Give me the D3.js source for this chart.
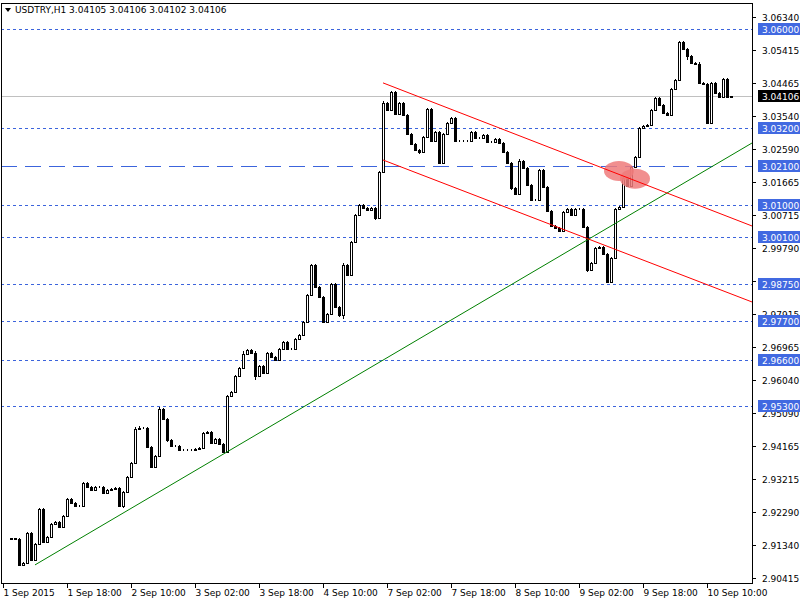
<!DOCTYPE html>
<html><head><meta charset="utf-8">
<script src="https://cdn.jsdelivr.net/npm/d3@7"></script>
<style>body{margin:0;background:#fff}text{font-family:"DejaVu Sans",sans-serif;font-size:9px}</style>
</head><body>
<svg width="800" height="600"></svg>
<script>
const svg = d3.select('svg');

// hourly closes, 1 Sep 2015 -> 10 Sep 2015
const closes = [2.91525,2.91525,2.91554,2.91525,2.90787,2.90844,2.91695,2.90929,2.91383,2.92377,
2.9144,2.91582,2.91951,2.92008,2.91866,2.92178,2.9266,2.92547,2.92462,2.92462,
2.93114,2.93001,2.92916,2.93001,2.93001,2.92831,2.92916,2.92944,2.92973,2.92462,
2.92859,2.93285,2.93682,2.94647,2.94675,2.94675,2.94136,2.93569,2.93881,2.95215,
2.94931,2.94335,2.94165,2.94165,2.94051,2.94051,2.94051,2.94051,2.94079,2.94108,
2.94533,2.94562,2.9425,2.94363,2.94221,2.93994,2.95584,2.95697,2.96151,2.96378,
2.96775,2.96889,2.96804,2.96151,2.96435,2.96236,2.96804,2.9669,2.96605,2.96917,
2.97116,2.96917,2.96917,2.97201,2.97315,2.97684,2.9845,2.99301,2.98677,2.98393,
2.97684,2.97911,2.98762,2.98109,2.97882,2.99301,2.99017,2.99954,3.0072,3.01004,
3.00919,3.00862,3.00919,3.00635,3.01941,3.03899,3.037,3.04211,3.03587,3.03899,
3.03558,3.03019,3.02735,3.02565,3.02508,3.02934,3.03729,3.0282,3.03076,3.02196,
3.03019,3.03331,3.03473,3.0282,3.0282,3.0282,3.0282,3.03076,3.02906,3.02906,
3.02991,3.02792,3.02792,3.02877,3.02764,3.02508,3.02196,3.01487,3.01316,3.02253,
3.02054,3.01572,3.01146,3.01146,3.01997,3.01515,3.00834,3.00408,3.00351,3.00266,
3.00805,3.00891,3.0072,3.00891,3.00891,3.0038,2.99159,2.99358,2.99784,2.99812,
2.99613,2.98819,2.995,3.00891,3.00947,3.0177,3.01543,3.02083,3.02366,3.03189,
3.03246,3.03274,3.037,3.04041,3.03842,3.03615,3.03558,3.04296,3.04552,3.0563,
3.05431,3.05233,3.05034,3.05006,3.04466,3.04438,3.03331,3.04466,3.04183,3.04069,
3.0458,3.04069,3.04106];
// wick lengths in pips where they stand out (others ~2 pips)
const wickUp = {0:0.5,1:0.5,2:0.5,3:0.5,33:5,34:5,39:5,60:7,62:4,63:5,77:4,85:6.5,95:5.7,106:2,129:7,145:2,169:3.4,174:6,180:3.5,182:0.3};
const wickDn = {0:0.5,1:0.5,2:0.5,3:0.5,5:1.5,21:4,25:2.3,30:5,41:6,52:3,63:10.5,64:3.7,84:6,85:10.5,93:4.5,104:6.5,109:4,127:5,132:3,146:4.5,171:11,174:2,177:2.5,182:0.3};
const wickDefault = 1.8;

const priceTicks = [3.06340,3.05415,3.04465,3.03540,3.02590,3.01665,3.00715,2.99790,2.98840,2.97915,2.96965,2.96040,2.95090,2.94165,2.93215,2.92290,2.91340,2.90415];
const levels = [3.060,3.032,3.010,3.001,2.9875,2.977,2.966,2.953];
const longDashLevel = 3.021;
const lastPrice = 3.04106;
const timeLabels = ['1 Sep 2015','1 Sep 18:00','2 Sep 10:00','3 Sep 02:00','3 Sep 18:00','4 Sep 10:00','7 Sep 02:00','7 Sep 18:00','8 Sep 10:00','9 Sep 02:00','9 Sep 18:00','10 Sep 10:00'];
const labelStep = 16;
// trend lines: [bar, price]
const greenLine = [[8,2.90787],[56,2.93994]];
const channelTop = [[95,3.0447],[187.25,3.00408]];
const channelBot = [[95,3.02281],[187.25,2.98251]];
const highlight = [[154,3.0197],[158,3.0175]];

const L = 1, R = 752, T = 3, B = 583;
const x = d3.scaleLinear().domain([0,1]).range([3,7]);
const y = d3.scaleLinear().domain([2.90415,3.06340]).range([578,17]);
const xMax = x.invert(R);

const g = svg.append('g').attr('shape-rendering','crispEdges');

// levels
levels.forEach(v=>{
  g.append('line').attr('x1',L).attr('x2',R).attr('y1',Math.round(y(v))+.5).attr('y2',Math.round(y(v))+.5)
    .attr('stroke','#3c64dc').attr('stroke-dasharray','3,3');
});
g.append('line').attr('x1',L).attr('x2',R).attr('y1',Math.round(y(longDashLevel))+.5).attr('y2',Math.round(y(longDashLevel))+.5)
  .attr('stroke','#3c64dc').attr('stroke-dasharray','16,8');
g.append('line').attr('x1',L).attr('x2',R).attr('y1',Math.round(y(lastPrice))+.5).attr('y2',Math.round(y(lastPrice))+.5)
  .attr('stroke','#c0c0c0');

// highlight blob
svg.selectAll('ellipse').data(highlight).enter().append('ellipse')
  .attr('cx',d=>x(d[0])).attr('cy',d=>y(d[1])).attr('rx',15).attr('ry',10)
  .attr('fill','#ef7b7b').attr('opacity',0.85);

// trend lines extended to the right edge
function ray(pts,color){
  const [a,b] = pts, s = (b[1]-a[1])/(b[0]-a[0]);
  svg.append('line').attr('x1',x(a[0])).attr('y1',y(a[1]))
    .attr('x2',x(xMax)).attr('y2',y(a[1]+s*(xMax-a[0])))
    .attr('stroke',color).attr('stroke-width',1);
}
ray(greenLine,'#008000');
ray(channelTop,'#ff0000');
ray(channelBot,'#ff0000');

// candles
const bars = closes.map((c,i)=>{
  const o = i? closes[i-1] : c;
  const h = Math.max(o,c) + (wickUp[i]??wickDefault)*1e-4;
  const l = Math.min(o,c) - (wickDn[i]??wickDefault)*1e-4;
  return {i,o,c,h,l};
});
const cg = g.append('g');
cg.selectAll('.wick').data(bars).enter().append('line')
  .attr('x1',d=>Math.round(x(d.i))+.5).attr('x2',d=>Math.round(x(d.i))+.5)
  .attr('y1',d=>Math.round(y(d.h))).attr('y2',d=>Math.round(y(d.l))).attr('stroke','#000');
cg.selectAll('.body').data(bars).enter().append('rect')
  .attr('x',d=>Math.round(x(d.i))-0.5).attr('width',2)
  .attr('y',d=>Math.round(y(Math.max(d.o,d.c)))+.5)
  .attr('height',d=>Math.max(0,Math.round(Math.abs(y(d.o)-y(d.c)))))
  .attr('fill',d=>d.c>=d.o?'#fff':'#000').attr('stroke','#000').attr('stroke-width',1);

// frame
g.append('rect').attr('x',L+.5).attr('y',T+.5).attr('width',R-L).attr('height',B-T)
  .attr('fill','none').attr('stroke','#000');

// price axis
const pa = svg.append('g');
priceTicks.forEach(v=>{
  const yy = Math.round(y(v))+.5;
  pa.append('line').attr('x1',R).attr('x2',R+4).attr('y1',yy).attr('y2',yy).attr('stroke','#000').attr('shape-rendering','crispEdges');
  pa.append('text').attr('x',R+10).attr('y',yy+3.5).text(v.toFixed(5));
});
function tag(v,fill){
  const yy = Math.round(y(v));
  pa.append('rect').attr('x',R+6).attr('y',yy-6).attr('width',42).attr('height',12).attr('fill',fill);
  pa.append('text').attr('x',R+10).attr('y',yy+3.5).attr('fill','#fff').text(v.toFixed(5));
}
levels.concat([longDashLevel]).forEach(v=>tag(v,'#4169e1'));
tag(lastPrice,'#000');

// time axis
timeLabels.forEach((t,k)=>{
  const xx = Math.round(x(k*labelStep))+.5;
  svg.append('line').attr('x1',xx).attr('x2',xx).attr('y1',B).attr('y2',B+5).attr('stroke','#000').attr('shape-rendering','crispEdges');
  svg.append('text').attr('x',xx).attr('y',B+13).text(t);
});

// title
svg.append('path').attr('d','M5,8 L11,8 L8,12 Z').attr('fill','#000');
svg.append('text').attr('x',15).attr('y',13).text('USDTRY,H1  3.04105 3.04106 3.04102 3.04106');
</script>
</body></html>
